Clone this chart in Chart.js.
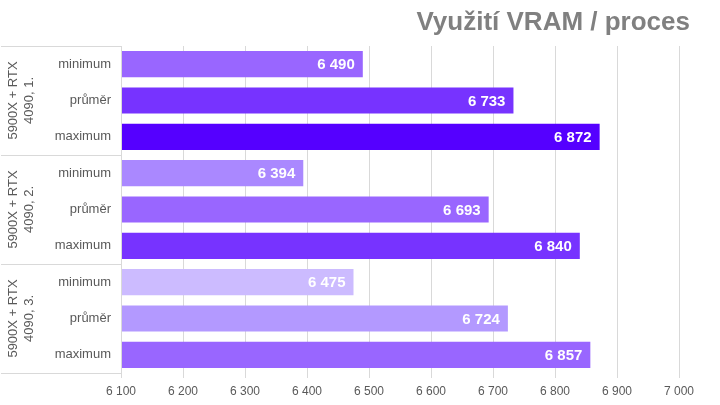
<!DOCTYPE html>
<html>
<head>
<meta charset="utf-8">
<script src="https://cdn.jsdelivr.net/npm/chart.js@4.4.1/dist/chart.umd.min.js"></script>
<style>
  html, body { margin: 0; padding: 0; background: #fff; }
  #wrap { width: 720px; height: 405px; position: relative; }
</style>
</head>
<body>
<div id="wrap"><canvas id="chart" width="720" height="405"></canvas></div>
<script>
const title = 'Využití VRAM / proces';
const groupLines = [['5900X + RTX', '4090, 1.'], ['5900X + RTX', '4090, 2.'], ['5900X + RTX', '4090, 3.']];
const categories = ['minimum', 'průměr', 'maximum'];
const run1 = [6490, 6733, 6872];
const run2 = [6394, 6693, 6840];
const run3 = [6475, 6724, 6857];
const colors1 = ['#9966ff', '#7733ff', '#5500ff'];
const colors2 = ['#aa88ff', '#9966ff', '#7733ff'];
const colors3 = ['#ccbbff', '#b399ff', '#9966ff'];
const xMin = 6100, xMax = 7000, xStep = 100;

const labels = [].concat(categories, categories, categories);
const values = [].concat(run1, run2, run3);
const barColors = [].concat(colors1, colors2, colors3);

function fmt(v) {
    return String(v).replace(/\B(?=(\d{3})+(?!\d))/g, ' ');
}

const textGray = '#595959';
const lineGray = '#d9d9d9';

const extras = {
    id: 'extras',
    afterDraw(chart) {
        const ctx = chart.ctx;
        const area = chart.chartArea;
        ctx.save();
        // title
        ctx.font = 'bold 26px "Liberation Sans", Arial, sans-serif';
        ctx.fillStyle = '#808080';
        ctx.textAlign = 'right';
        ctx.textBaseline = 'alphabetic';
        ctx.fillText(title, 690, 30);

        // group separators
        ctx.strokeStyle = lineGray;
        ctx.lineWidth = 1;
        const n = groupLines.length;
        const per = categories.length;
        const band = (area.bottom - area.top) / labels.length;
        for (let g = 0; g <= n; g++) {
            const y = Math.round(area.top + g * per * band) + 0.5;
            ctx.beginPath();
            ctx.moveTo(1, y);
            ctx.lineTo(area.left, y);
            ctx.stroke();
        }
        // axis line
        ctx.beginPath();
        ctx.moveTo(Math.round(area.left) + 0.5, area.top);
        ctx.lineTo(Math.round(area.left) + 0.5, area.bottom);
        ctx.stroke();

        // group labels
        ctx.fillStyle = textGray;
        ctx.font = '13px "Liberation Sans", Arial, sans-serif';
        ctx.textAlign = 'center';
        ctx.textBaseline = 'middle';
        for (let g = 0; g < n; g++) {
            const cy = area.top + (g * per + per / 2) * band;
            ctx.save();
            ctx.translate(21, cy);
            ctx.rotate(-Math.PI / 2);
            ctx.fillText(groupLines[g][0], 0, -8);
            ctx.fillText(groupLines[g][1], 0, 8);
            ctx.restore();
        }

        // value labels
        const meta = chart.getDatasetMeta(0);
        ctx.font = 'bold 15px "Liberation Sans", Arial, sans-serif';
        ctx.fillStyle = '#ffffff';
        ctx.textAlign = 'right';
        ctx.textBaseline = 'middle';
        meta.data.forEach((bar, i) => {
            ctx.fillText(fmt(values[i]), bar.x - 8, bar.y + 1);
        });
        ctx.restore();
    }
};

new Chart(document.getElementById('chart').getContext('2d'), {
    type: 'bar',
    data: {
        labels: labels,
        datasets: [{
            data: values,
            backgroundColor: barColors,
            borderWidth: 0,
            barPercentage: 0.72,
            categoryPercentage: 1
        }]
    },
    options: {
        indexAxis: 'y',
        responsive: false,
        animation: false,
        layout: { padding: { top: 46, right: 41, left: 0, bottom: 0 } },
        plugins: {
            legend: { display: false },
            title: { display: false },
            tooltip: { enabled: false }
        },
        scales: {
            x: {
                min: xMin,
                max: xMax,
                afterFit: (scale) => { scale.height = 32; },
                border: { display: false },
                grid: { color: lineGray, tickLength: 5 },
                ticks: {
                    stepSize: xStep,
                    color: textGray,
                    padding: 6,
                    font: { family: '"Liberation Sans", Arial, sans-serif', size: 12 },
                    callback: (v) => fmt(v)
                }
            },
            y: {
                afterFit: (scale) => { scale.width = 121; },
                border: { display: false },
                grid: { display: false, drawTicks: false },
                ticks: {
                    color: textGray,
                    padding: 10,
                    autoSkip: false,
                    font: { family: '"Liberation Sans", Arial, sans-serif', size: 13 }
                }
            }
        }
    },
    plugins: [extras]
});
</script>
</body>
</html>
